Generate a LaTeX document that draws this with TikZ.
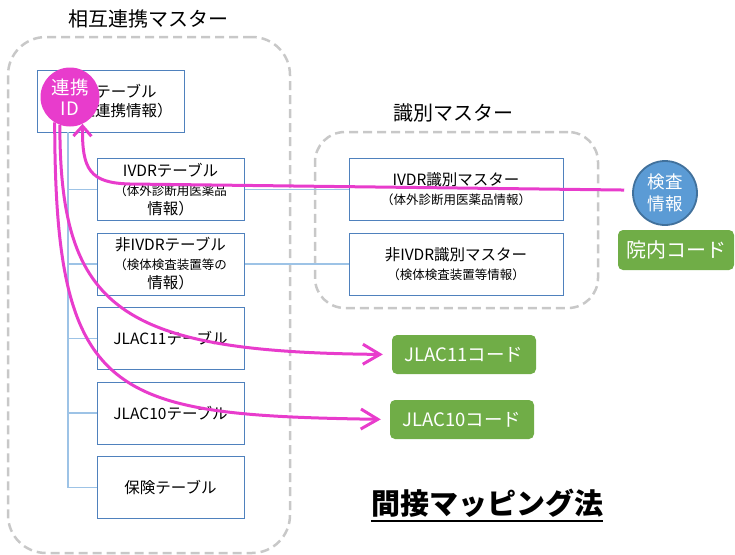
\documentclass[tikz,border=0pt]{standalone}
\usepackage{fontspec}
\setmainfont{Noto Sans CJK JP}
\usetikzlibrary{arrows.meta}

\definecolor{boxblue}{RGB}{79,129,189}
\definecolor{treeblue}{RGB}{157,195,230}
\definecolor{dashgray}{RGB}{200,200,200}
\definecolor{linkpink}{RGB}{232,60,204}
\definecolor{circblue}{RGB}{91,155,213}
\definecolor{circedge}{RGB}{65,113,156}
\definecolor{codegreen}{RGB}{112,173,71}

\newcommand{\smalltext}{\fontsize{12.5}{16}\selectfont}

\tikzset{
	groupbox/.style={draw=dashgray, line width=2.5pt, dash pattern=on 9pt off 5pt, rounded corners=38pt},
	grouptitle/.style={font=\fontsize{20}{24}\selectfont},
	tablebox/.style={draw=boxblue, line width=1pt, fill=white, minimum width=147pt, minimum height=62pt,
		align=center, inner sep=2pt, font=\fontsize{15.5}{19}\selectfont},
	treeline/.style={draw=treeblue, line width=1.6pt},
	codebox/.style={fill=codegreen, text=white, rounded corners=5pt, minimum height=39pt,
		font=\fontsize{18.5}{22}\selectfont},
	linkarrow/.style={draw=linkpink, line width=3pt, -{Straight Barb[length=10pt,width=18pt]}},
	bigtip/.style={-{Straight Barb[length=17pt,width=20pt]}, shorten >=9pt}
}

\begin{document}
\begin{tikzpicture}[x=1pt, y=-1pt, node distance=74.5pt]
	\useasboundingbox (0,0) rectangle (735,554);

	% Groups
	\node [groupbox, minimum width=282pt, minimum height=516pt] (mutual) at (149,295) {};
	\node [grouptitle] (mutualtitle) at (148,19) {相互連携マスター};
	\node [groupbox, rounded corners=30pt, minimum width=283pt, minimum height=176pt] (ident) at (456.5,220) {};
	\node [grouptitle] (identtitle) at (453,113) {識別マスター};

	% Tables
	\node [tablebox] (link) at (110.5,101) {連携テーブル\\（相互連携情報）};
	\node [tablebox] (ivdr) at (170.5,189.5) {IVDRテーブル\\\smalltext（体外診断用医薬品\\情報）};
	\node [tablebox] (nonivdr) [below of=ivdr] {非IVDRテーブル\\\smalltext（検体検査装置等の\\情報）};
	\node [tablebox] (jlac11t) [below of=nonivdr] {JLAC11テーブル};
	\node [tablebox] (jlac10t) [below of=jlac11t] {JLAC10テーブル};
	\node [tablebox] (hoken) [below of=jlac10t] {保険テーブル};

	\node [tablebox, minimum width=214pt] (ivdrid) at (456,189.5) {IVDR識別マスター\\\smalltext（体外診断用医薬品情報）};
	\node [tablebox, minimum width=214pt] (nonivdrid) [below of=ivdrid] {非IVDR識別マスター\\\smalltext（検体検査装置等情報）};

	% Tree
	\coordinate (trunk) at (68,132);
	\foreach \t in {ivdr,nonivdr,jlac11t,jlac10t,hoken}
		\draw [treeline] (trunk) |- (\t.west);
	\draw [treeline] (ivdr.east) -- (ivdrid.west);
	\draw [treeline] (nonivdr.east) -- (nonivdrid.west);

	% Codes
	\node [circle, fill=linkpink, text=white, inner sep=0pt, minimum size=59pt, align=center,
		font=\fontsize{18.5}{21}\selectfont] (id) at (70,97) {連携\\ID};
	\node [circle, fill=circblue, draw=circedge, line width=1.8pt, text=white, inner sep=0pt,
		minimum size=64pt, align=center, font=\fontsize{17.5}{22}\selectfont] (kensa) at (665,193) {検査\\情報};
	\node [codebox, minimum width=116pt, minimum height=40pt, font=\fontsize{20}{24}\selectfont] (innai) at (676,250) {院内コード};
	\node [codebox, minimum width=144pt] (jlac11) at (464,354.5) {JLAC11コード};
	\node [codebox, minimum width=144pt] (jlac10) at (462,419.5) {JLAC10コード};

	% Paths
	\draw [linkarrow, shorten <=8pt] (kensa.175) -- (130,184) .. controls (90,183) and (82,170) .. (id.-65);
	\draw [linkarrow, bigtip] (id.-110) .. controls (60,310) and (120,352) .. (jlac11.west);
	\draw [linkarrow, bigtip] (id.-121) .. controls (55,400) and (110,415) .. (jlac10.west);

	% Method
	\node [font=\bfseries\fontsize{29}{34}\selectfont, inner sep=0pt] (method) at (487,503) {間接マッピング法};
	\draw [line width=2pt] ([yshift=-4pt]method.south west) -- ([yshift=-4pt]method.south east);
\end{tikzpicture}
\end{document}
